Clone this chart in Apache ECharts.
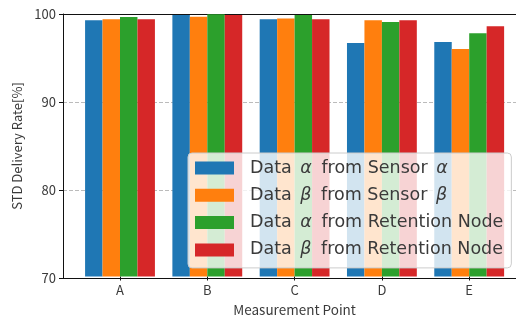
<!DOCTYPE html>
<html><head><meta charset="utf-8">
<script src="https://cdn.jsdelivr.net/npm/echarts@6/dist/echarts.min.js"></script>
<style>html,body{margin:0;padding:0;background:#fff}#c{width:516px;height:322px}</style>
</head><body><div id="c"></div>
<script>
const categories = ['A', 'B', 'C', 'D', 'E'];
const seriesNames = ['Data α from Sensor α', 'Data β from Sensor β', 'Data α from Retention Node', 'Data β from Retention Node'];
const dataAlphaSensor = [99.3, 99.9, 99.4, 96.7, 96.8];
const dataBetaSensor = [99.4, 99.7, 99.5, 99.3, 96.0];
const dataAlphaNode = [99.65, 99.98, 99.9, 99.1, 97.8];
const dataBetaNode = [99.4, 99.9, 99.4, 99.3, 98.6];
const yTicks = [70, 80, 90, 100];
const colors = ['#1f77b4', '#ff7f0e', '#2ca02c', '#d62728'];
const allData = [dataAlphaSensor, dataBetaSensor, dataAlphaNode, dataBetaNode];

const FONT = '"Noto Sans CJK JP", "Noto Sans", sans-serif';
const LFONT = '"DejaVu Sans", sans-serif';
const TXT = '#3a3a3a';
const LSIZE = 17.5;
const chart = echarts.init(document.getElementById('c'), null, {renderer: 'canvas'});
chart.setOption({
  animation: false,
  textStyle: {fontFamily: FONT},
  grid: [
    {left: 63, top: 14, width: 462, bottom: 44},
    {left: 76.35, top: 14, width: 436.5, bottom: 44}
  ],
  xAxis: [
    {gridIndex: 0, type: 'value', min: 0, max: 1, position: 'bottom',
     axisLine: {show: true, lineStyle: {color: '#111'}}, axisTick: {show: false},
     axisLabel: {show: false}, splitLine: {show: false}},
    {gridIndex: 0, type: 'value', min: 0, max: 1, position: 'top',
     axisLine: {show: true, lineStyle: {color: '#111'}}, axisTick: {show: false},
     axisLabel: {show: false}, splitLine: {show: false}},
    {gridIndex: 1, type: 'category', data: categories,
     axisLine: {show: false},
     axisTick: {show: true, alignWithLabel: true, length: 4, lineStyle: {color: '#111'}},
     axisLabel: {color: TXT, fontSize: 13, margin: 7, fontFamily: FONT},
     name: 'Measurement Point', nameLocation: 'middle', nameGap: 27,
     nameTextStyle: {color: TXT, fontSize: 13.5, fontFamily: FONT}}
  ],
  yAxis: [
    {gridIndex: 0, type: 'value', min: yTicks[0], max: yTicks[yTicks.length - 1], interval: 10,
     axisLine: {show: true, lineStyle: {color: '#111'}},
     axisTick: {show: true, length: 4, lineStyle: {color: '#111'}},
     axisLabel: {color: TXT, fontSize: 13, margin: 7, fontFamily: FONT},
     splitLine: {show: true, lineStyle: {color: '#bbb', type: [4, 2], width: 1}},
     name: 'STD Delivery Rate[%]', nameLocation: 'middle', nameGap: 38,
     nameTextStyle: {color: TXT, fontSize: 13, fontFamily: FONT}},
    {gridIndex: 1, type: 'value', min: yTicks[0], max: yTicks[yTicks.length - 1], show: false}
  ],
  legend: {
    orient: 'vertical', left: 188, top: 153,
    data: seriesNames,
    itemWidth: 39, itemHeight: 13, itemGap: 7.3,
    padding: [5, 8, 8, 7],
    backgroundColor: 'rgba(255,255,255,0.8)',
    borderColor: '#ccc', borderWidth: 1, borderRadius: 4,
    icon: 'rect',
    formatter: function (n) {
      return n.split(/([αβ])/).filter(s => s.length).map(s => /[αβ]/.test(s) ? '{g|' + s + '}' : '{t|' + s + '}').join('');
    },
    textStyle: {color: TXT, fontSize: LSIZE, lineHeight: 20, fontFamily: LFONT, padding: [0, 0, 0, 11],
      rich: {
        t: {fontFamily: LFONT, fontSize: LSIZE, lineHeight: 20, color: TXT, verticalAlign: 'middle'},
        g: {fontStyle: 'italic', fontFamily: LFONT, fontSize: LSIZE, lineHeight: 20, color: TXT, verticalAlign: 'middle', padding: [0, 4, 0, 3]}
      }}
  },
  series: allData.map((d, i) => ({
    name: seriesNames[i], type: 'bar', xAxisIndex: 2, yAxisIndex: 1,
    data: d, barGap: '0%', barCategoryGap: '20%',
    itemStyle: {color: colors[i]}
  }))
});
</script></body></html>
